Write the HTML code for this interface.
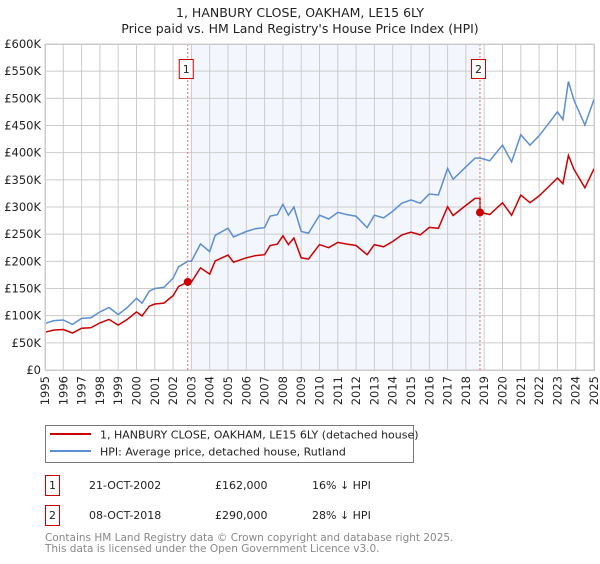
<!DOCTYPE html>
<html><head><meta charset="utf-8"><style>
body{margin:0;background:#fff;font-family:"DejaVu Sans","Liberation Sans",sans-serif;}
svg text{font-family:"DejaVu Sans","Liberation Sans",sans-serif;}
</style></head><body>
<svg id="chart" width="600" height="560" viewBox="0 0 600 560">
<text x="300" y="17" text-anchor="middle" font-size="12.5" fill="#222">1, HANBURY CLOSE, OAKHAM, LE15 6LY</text>
<text x="300" y="33" text-anchor="middle" font-size="12.5" fill="#222">Price paid vs. HM Land Registry's House Price Index (HPI)</text>
<g id="plot"></g>
<g>
<rect x="45.5" y="425.5" width="368" height="37" fill="#fff" stroke="#777"/>
<line x1="50" y1="434" x2="91" y2="434" stroke="#cc0000" stroke-width="2"/>
<text x="100" y="438.5" font-size="11" fill="#222">1, HANBURY CLOSE, OAKHAM, LE15 6LY (detached house)</text>
<line x1="50" y1="451" x2="91" y2="451" stroke="#5b8fd4" stroke-width="2"/>
<text x="100" y="455.5" font-size="11" fill="#222">HPI: Average price, detached house, Rutland</text>
</g>
<g font-size="11" fill="#222">
<rect x="45.5" y="475.5" width="14" height="20" fill="#fff" stroke="#cc0000"/>
<text x="52.5" y="489" text-anchor="middle">1</text>
<text x="89" y="489">21-OCT-2002</text>
<text x="215" y="489">£162,000</text>
<text x="312" y="489">16% ↓ HPI</text>
<rect x="45.5" y="505.5" width="14" height="20" fill="#fff" stroke="#cc0000"/>
<text x="52.5" y="519" text-anchor="middle">2</text>
<text x="89" y="519">08-OCT-2018</text>
<text x="215" y="519">£290,000</text>
<text x="312" y="519">28% ↓ HPI</text>
</g>
<text x="45" y="541" font-size="10.5" fill="#888">Contains HM Land Registry data © Crown copyright and database right 2025.</text>
<text x="45" y="552" font-size="10.5" fill="#888">This data is licensed under the Open Government Licence v3.0.</text>
</svg>
<script>
const hpiYears=[1995,1995.5,1996,1996.5,1997,1997.5,1998,1998.5,1999,1999.5,2000,2000.3,2000.7,2001,2001.5,2002,2002.3,2002.8,2003,2003.5,2004,2004.3,2005,2005.3,2006,2006.5,2007,2007.3,2007.7,2008,2008.3,2008.6,2009,2009.4,2010,2010.5,2011,2011.5,2012,2012.6,2013,2013.5,2014,2014.5,2015,2015.5,2016,2016.5,2017,2017.3,2018,2018.5,2018.8,2019.3,2020,2020.5,2021,2021.5,2022,2022.5,2023,2023.3,2023.6,2023.9,2024.5,2025];
const hpiValues=[86,91,92,84,95,96,107,115,102,115,132,123,145,150,152,169,190,200,200,232,218,248,261,245,255,260,262,283,286,305,285,300,255,252,285,278,290,286,283,262,285,280,292,307,313,307,324,322,371,351,374,390,390,385,414,383,433,414,431,453,475,461,531,497,451,498];
const saleYears=[2002.8,2018.77];
const salePrices=[162,290];
const yTicks=[0,50,100,150,200,250,300,350,400,450,500,550,600];
const yTickLabels=["£0","£50K","£100K","£150K","£200K","£250K","£300K","£350K","£400K","£450K","£500K","£550K","£600K"];
const xTickYears=[1995,1996,1997,1998,1999,2000,2001,2002,2003,2004,2005,2006,2007,2008,2009,2010,2011,2012,2013,2014,2015,2016,2017,2018,2019,2020,2021,2022,2023,2024,2025];

const X0=45,X1=594,Y0=370,Y1=44;
const xs=y=>X0+(y-1995)/30*(X1-X0);
const ys=v=>Y0-v/600*(Y0-Y1);
const NS="http://www.w3.org/2000/svg";
const plot=document.getElementById('plot');
function mk(tag,attrs,parent){const e=document.createElementNS(NS,tag);for(const k in attrs)e.setAttribute(k,attrs[k]);(parent||plot).appendChild(e);return e;}
function hpiAt(t){for(let i=0;i<hpiYears.length-1;i++){if(t>=hpiYears[i]&&t<=hpiYears[i+1]){const f=(t-hpiYears[i])/(hpiYears[i+1]-hpiYears[i]);return hpiValues[i]+f*(hpiValues[i+1]-hpiValues[i]);}}return hpiValues[hpiValues.length-1];}

const bg=mk('rect',{x:X0,y:Y1,width:X1-X0,height:Y0-Y1,fill:'#fff'});


const shade=mk('rect',{x:xs(Math.ceil(saleYears[0])),y:Y1,width:xs(saleYears[1])-xs(Math.ceil(saleYears[0])),height:Y0-Y1,fill:'#f3f6fd'});


xTickYears.forEach(y=>{
  const l=mk('line',{x1:xs(y),x2:xs(y),y1:Y1,y2:Y0,stroke:'#ccc','stroke-width':1});
  
  
  const t=mk('text',{x:0,y:0,'font-size':11.5,fill:'#222','text-anchor':'end',transform:`translate(${xs(y)+4},${Y0+6}) rotate(-90)`});
  t.textContent=y;
  
  
});
yTicks.forEach((v,i)=>{
  const l=mk('line',{x1:X0,x2:X1,y1:ys(v),y2:ys(v),stroke:'#ccc','stroke-width':1});
  
  
  const t=mk('text',{x:X0-4,y:ys(v)+4,'font-size':11.5,fill:'#222','text-anchor':'end'});
  t.textContent=yTickLabels[i];
  
  
});
const hpiPts=hpiYears.map((y,i)=>xs(y).toFixed(1)+','+ys(hpiValues[i]).toFixed(1)).join(' ');
const hl=mk('polyline',{points:hpiPts,fill:'none',stroke:'#5b8fd4','stroke-width':1.5});


const r1=salePrices[0]/hpiAt(saleYears[0]),r2=salePrices[1]/hpiAt(saleYears[1]);
const redPts=[];
hpiYears.forEach((y,i)=>{
  if(y<saleYears[1])redPts.push([y,hpiValues[i]*r1]);
  if(i<hpiYears.length-1&&y<saleYears[1]&&hpiYears[i+1]>=saleYears[1]){redPts.push([saleYears[1],hpiAt(saleYears[1])*r1]);redPts.push([saleYears[1],salePrices[1]]);}
  if(y>=saleYears[1])redPts.push([y,hpiValues[i]*r2]);
});
const rl=mk('polyline',{points:redPts.map(p=>xs(p[0]).toFixed(1)+','+ys(p[1]).toFixed(1)).join(' '),fill:'none',stroke:'#cc0000','stroke-width':1.5});


saleYears.forEach((y,i)=>{
  const d=mk('line',{x1:xs(y),x2:xs(y),y1:Y1,y2:Y0,stroke:'#e66','stroke-width':1,'stroke-dasharray':'2,2'});
  
  
  const bx=mk('rect',{x:xs(y)-8.5,y:59.5,width:14,height:19,fill:'#fff',stroke:'#cc0000'});
  
  
  const t=mk('text',{x:xs(y)-1.5,y:73,'font-size':11,fill:'#222','text-anchor':'middle'});
  t.textContent=String(i+1);
  
  
  const c=mk('circle',{cx:xs(y),cy:ys(salePrices[i]),r:4,fill:'#cc0000'});
  
  
});
const fr=mk('rect',{x:X0+0.5,y:Y1+0.5,width:X1-X0,height:Y0-Y1,fill:'none',stroke:'#ccc'});


</script>
</body></html>
